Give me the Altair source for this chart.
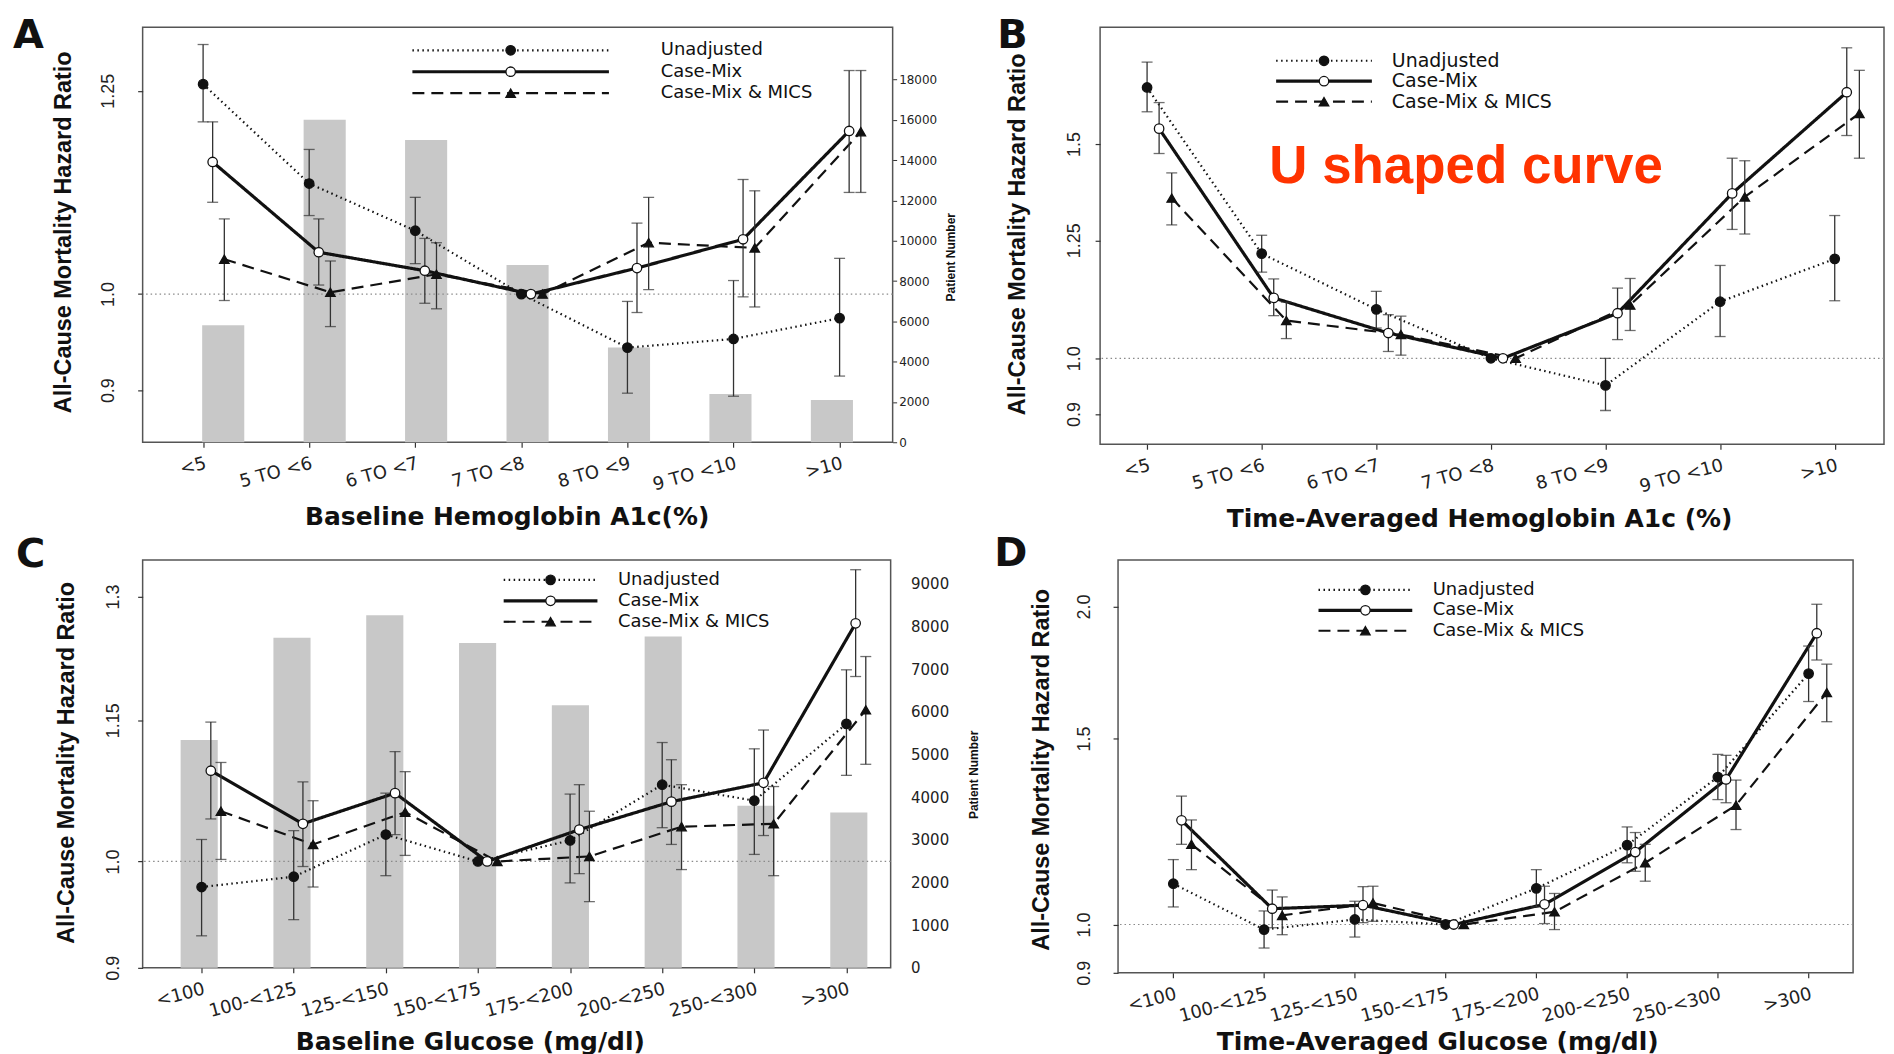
import json
import altair as alt
import pandas as pd

SERIES = ["Unadjusted", "Case-Mix", "Case-Mix & MICS"]

HBA1C_CATS = ["<5", "5 TO <6", "6 TO <7", "7 TO <8", "8 TO <9", "9 TO <10", ">10"]
GLU_CATS = ["<100", "100-<125", "125-<150", "150-<175", "175-<200", "200-<250", "250-<300", ">300"]

# ---------- Panel A: baseline HbA1c ----------
A_PATIENTS = [5800, 16000, 15000, 8800, 4700, 2400, 2100]
A_UNADJ = [1.259, 1.129, 1.072, 1.0, 0.943, 0.952, 0.974]
A_UNADJ_LO = [1.208, 1.090, 1.034, 1.0, 0.897, 0.894, 0.914]
A_UNADJ_HI = [1.315, 1.172, 1.112, 1.0, 0.992, 1.015, 1.040]
A_CM = [1.156, 1.047, 1.026, 1.0, 1.029, 1.062, 1.196]
A_CM_LO = [1.106, 1.010, 0.990, 1.0, 0.980, 0.997, 1.118]
A_CM_HI = [1.208, 1.086, 1.063, 1.0, 1.081, 1.134, 1.278]
A_MICS = [1.039, 1.002, 1.022, 1.0, 1.058, 1.052, 1.195]
A_MICS_LO = [0.993, 0.965, 0.984, 1.0, 1.005, 0.986, 1.118]
A_MICS_HI = [1.086, 1.037, 1.058, 1.0, 1.112, 1.120, 1.278]
A_YTICKS = [0.9, 1.0, 1.25]
A_PTICKS = [0, 2000, 4000, 6000, 8000, 10000, 12000, 14000, 16000, 18000]

# ---------- Panel B: time-averaged HbA1c ----------
B_UNADJ = [1.669, 1.219, 1.097, 1.0, 0.950, 1.113, 1.207]
B_UNADJ_LO = [1.594, 1.177, 1.059, 1.0, 0.906, 1.042, 1.115]
B_UNADJ_HI = [1.751, 1.262, 1.135, 1.0, 1.000, 1.192, 1.310]
B_CM = [1.544, 1.121, 1.049, 1.0, 1.089, 1.366, 1.654]
B_CM_LO = [1.473, 1.084, 1.013, 1.0, 1.036, 1.276, 1.524]
B_CM_HI = [1.622, 1.162, 1.086, 1.0, 1.142, 1.460, 1.799]
B_MICS = [1.354, 1.074, 1.046, 1.0, 1.106, 1.357, 1.589]
B_MICS_LO = [1.287, 1.038, 1.006, 1.0, 1.054, 1.265, 1.460]
B_MICS_HI = [1.420, 1.112, 1.083, 1.0, 1.163, 1.453, 1.724]
B_YTICKS = [0.9, 1.0, 1.25, 1.5]

# ---------- Panel C: baseline glucose ----------
C_PATIENTS = [5340, 7730, 8260, 7610, 6150, 7760, 3800, 3640]
C_UNADJ = [0.975, 0.985, 1.027, 1.0, 1.021, 1.079, 1.062, 1.146]
C_UNADJ_LO = [0.929, 0.944, 0.986, 1.0, 0.979, 1.034, 1.007, 1.089]
C_UNADJ_HI = [1.022, 1.031, 1.070, 1.0, 1.069, 1.125, 1.118, 1.209]
C_CM = [1.094, 1.038, 1.070, 1.0, 1.032, 1.061, 1.081, 1.266]
C_CM_LO = [1.043, 0.995, 1.027, 1.0, 0.988, 1.017, 1.026, 1.201]
C_CM_HI = [1.148, 1.082, 1.115, 1.0, 1.079, 1.106, 1.139, 1.335]
C_MICS = [1.051, 1.017, 1.050, 1.0, 1.005, 1.035, 1.038, 1.162]
C_MICS_LO = [1.002, 0.975, 1.006, 1.0, 0.961, 0.992, 0.986, 1.101]
C_MICS_HI = [1.103, 1.062, 1.093, 1.0, 1.051, 1.079, 1.077, 1.225]
C_YTICKS = [0.9, 1.0, 1.15, 1.3]
C_PTICKS = [0, 1000, 2000, 3000, 4000, 5000, 6000, 7000, 8000, 9000]

# ---------- Panel D: time-averaged glucose ----------
D_UNADJ = [1.093, 0.989, 1.011, 1.0, 1.082, 1.189, 1.379, 1.728]
D_UNADJ_LO = [1.039, 0.950, 0.973, 1.0, 1.039, 1.144, 1.313, 1.626]
D_UNADJ_HI = [1.152, 1.030, 1.052, 1.0, 1.127, 1.237, 1.449, 1.835]
D_CM = [1.255, 1.035, 1.043, 1.0, 1.045, 1.171, 1.372, 1.887]
D_CM_LO = [1.191, 0.993, 1.004, 1.0, 1.002, 1.123, 1.304, 1.780]
D_CM_HI = [1.323, 1.078, 1.086, 1.0, 1.087, 1.222, 1.446, 2.010]
D_MICS = [1.191, 1.020, 1.048, 1.0, 1.028, 1.144, 1.297, 1.658]
D_MICS_LO = [1.127, 0.978, 1.007, 1.0, 0.989, 1.099, 1.230, 1.556]
D_MICS_HI = [1.256, 1.062, 1.087, 1.0, 1.070, 1.191, 1.370, 1.764]
D_YTICKS = [0.9, 1.0, 1.5, 2.0]

FONT_W = "DejaVu Sans"
FONT_N = "Liberation Sans"
INK = "#111111"
DASHES = [[1.5, 3.5], [1, 0], [12, 7]]
WIDTHS = [2.2, 3.2, 2.2]
SHAPES = ["circle", "circle", "triangle-up"]
FILLS = ["#111111", "#ffffff", "#111111"]
# marker keys (a separate key set keeps the marker legend apart from the line legend)
MARKER_KEYS = ["pt-" + s for s in SERIES]


def make_panel(p):
    cats = p["cats"]
    rows = []
    for si, s in enumerate(SERIES):
        for i, c in enumerate(cats):
            rows.append({"idx": i, "cat": c, "series": s, "marker": MARKER_KEYS[si],
                         "hr": p["hr"][si][i], "lo": p["lo"][si][i], "hi": p["hi"][si][i],
                         "xpos": i + p["offsets"][si]})
    df = pd.DataFrame(rows)

    xsc = alt.Scale(domain=p["xdomain"], nice=False, zero=False)
    ysc = alt.Scale(type="log", domain=p["ydomain"], nice=False)
    xaxis = alt.Axis(
        values=list(range(len(cats))), labelExpr=json.dumps(cats) + "[datum.value]",
        title=p["xtitle"], labelAngle=345, labelAlign="right", labelBaseline="top",
        labelFont=FONT_W, labelFontSize=18, labelColor="#222", labelPadding=7,
        labelOverlap=False, labelFlush=False, tickSize=5, tickColor="#333", tickWidth=1.2,
        domain=False, grid=False, titleFont=FONT_W, titleFontSize=25, titleFontWeight="bold",
        titleColor=INK, titleX=p["xtitle_x"], titleY=p["xtitle_y"], titleBaseline="top",
        titleAlign="center")
    yaxis = alt.Axis(
        values=p["yticks"], format=".2~f",
        labelExpr="datum.value == 1 ? '1.0' : datum.value == 2 ? '2.0' : datum.label",
        labelAngle=270, labelAlign="center", labelBaseline="bottom", labelFont=FONT_N,
        labelFontSize=18, labelColor="#222", labelPadding=p["ylabpad"], labelOverlap=False,
        labelFlush=False, tickSize=5, tickColor="#333", tickWidth=1.2, domain=False, grid=False,
        title="All-Cause Mortality Hazard Ratio", titleFont=FONT_N, titleFontSize=23.5,
        titleFontWeight="bold", titleColor=INK, titleAngle=270, titleBaseline="bottom",
        titleAlign="center", titleX=p["ytitle_x"], titleY=p["ytitle_y"])

    def X(f):
        return alt.X(f, type="quantitative", scale=xsc, axis=xaxis)

    def Y(f):
        return alt.Y(f, type="quantitative", scale=ysc, axis=yaxis)

    half = p["leg_half"] / (90 ** 0.5 / 2)
    leg_line = alt.Legend(
        orient="none", legendX=p["leg_x"], legendY=p["leg_y"], title=None,
        symbolType=f"M-{half:.2f},0L{half:.2f},0", symbolSize=90, symbolStrokeColor=INK,
        symbolFillColor="transparent", labelOffset=p["leg_off"], labelFont=FONT_W,
        labelFontSize=p["leg_fs"], labelColor=INK, labelLimit=400, padding=0,
        rowPadding=p["leg_rp"])
    leg_pts = alt.Legend(
        orient="none", legendX=p["leg_x"], legendY=p["leg_y"], title=None, symbolSize=90,
        symbolStrokeColor=INK, symbolStrokeWidth=1.3, labelExpr="''", labelFont=FONT_W,
        labelFontSize=p["leg_fs"], labelOffset=p["leg_off"], padding=0, rowPadding=p["leg_rp"])

    base = alt.Chart(df)
    ref = alt.Chart(pd.DataFrame({"ref": [1.0]})).mark_rule(
        color="#8a8a8a", strokeDash=[1.5, 3], strokeWidth=1.2).encode(y=Y("ref"))
    lines = base.mark_line(color=INK).encode(
        x=X("xpos"), y=Y("hr"),
        strokeDash=alt.StrokeDash("series:N", scale=alt.Scale(domain=SERIES, range=DASHES),
                                  legend=leg_line),
        strokeWidth=alt.StrokeWidth("series:N",
                                    scale=alt.Scale(type="ordinal", domain=SERIES, range=WIDTHS),
                                    legend=leg_line))
    errs = base.transform_filter("datum.lo != datum.hi")
    err = errs.mark_rule(color="#333", strokeWidth=1.3).encode(
        x=X("xpos"), y=Y("lo"), y2=alt.Y2("hi"))
    cap_lo = errs.mark_tick(orient="horizontal", size=11, thickness=1.3, color="#333").encode(
        x=X("xpos"), y=Y("lo"))
    cap_hi = errs.mark_tick(orient="horizontal", size=11, thickness=1.3, color="#333").encode(
        x=X("xpos"), y=Y("hi"))
    pts = base.mark_point(size=90, opacity=1, strokeWidth=1.3).encode(
        x=X("xpos"), y=Y("hr"),
        shape=alt.Shape("marker:N", scale=alt.Scale(domain=MARKER_KEYS, range=SHAPES),
                        legend=leg_pts),
        fill=alt.Fill("marker:N", scale=alt.Scale(domain=MARKER_KEYS, range=FILLS),
                      legend=leg_pts),
        stroke=alt.Stroke("marker:N", scale=alt.Scale(domain=MARKER_KEYS, range=[INK, INK, INK]),
                          legend=leg_pts))
    lab = alt.Chart(pd.DataFrame({"t": [p["label"]]})).mark_text(
        font=FONT_W, fontSize=40, fontWeight="bold", align="left", baseline="top",
        color=INK).encode(text="t:N", x=alt.value(p["label_x"]), y=alt.value(p["label_y"]))
    layers = [ref, lines, err, cap_lo, cap_hi, pts, lab]
    if p.get("note"):
        note = alt.Chart(pd.DataFrame({"t": [p["note"]]})).mark_text(
            font=FONT_N, fontSize=53, fontWeight="bold", align="center", baseline="alphabetic",
            color="#ff3300").encode(text="t:N", x=alt.value(p["note_x"]), y=alt.value(p["note_y"]))
        layers.append(note)
    main = alt.layer(*layers)

    if p.get("patients"):
        bdf = pd.DataFrame({"cat": cats, "patients": p["patients"]})
        raxis = alt.Axis(
            orient="right", values=p["pticks"], format="d", title="Patient Number",
            labelFont=FONT_W, labelFontSize=p["r_fs"], labelColor="#222", tickSize=p["r_tick"],
            tickColor="#333", labelPadding=p["r_pad"], labelOverlap=False, labelFlush=False,
            domain=False, grid=False, titleFont=FONT_N, titleFontSize=12, titleFontWeight="bold",
            titleColor=INK, titleAngle=270, titleBaseline="top", titleAlign="center",
            titleX=p["r_title_x"], titleY=p["r_title_y"])
        bars = alt.Chart(bdf).mark_bar(color="#c8c8c8").encode(
            x=alt.X("cat:N", sort=cats,
                    scale=alt.Scale(type="band", paddingInner=p["b_pi"], paddingOuter=p["b_po"],
                                    align=p["b_al"]), axis=None),
            y=alt.Y("patients:Q", scale=alt.Scale(domain=[0, p["pmax"]], nice=False), axis=raxis))
        chart = alt.layer(bars, main).resolve_scale(x="independent", y="independent")
    else:
        chart = main
    return chart.properties(width=p["w"], height=p["h"])


PANEL_A = dict(
    cats=HBA1C_CATS, patients=A_PATIENTS,
    hr=[A_UNADJ, A_CM, A_MICS], lo=[A_UNADJ_LO, A_CM_LO, A_MICS_LO], hi=[A_UNADJ_HI, A_CM_HI, A_MICS_HI],
    w=752, h=416, xdomain=[-0.57, 6.50], ydomain=[0.85, 1.34], yticks=A_YTICKS,
    offsets=[0, 0.09, 0.2], label="A", label_x=-130, label_y=-11,
    ylabpad=20, ytitle_x=-67, ytitle_y=205, xtitle="Baseline Hemoglobin A1c(%)", xtitle_x=365, xtitle_y=62,
    leg_x=360, leg_y=14, leg_half=98.5, leg_off=141.5, leg_rp=3.5, leg_fs=18,
    b_pi=0.585, b_po=0.489, b_al=0.60, pmax=20590, pticks=A_PTICKS,
    r_fs=12, r_tick=4, r_pad=2, r_title_x=53, r_title_y=230)

PANEL_B = dict(
    cats=HBA1C_CATS,
    hr=[B_UNADJ, B_CM, B_MICS], lo=[B_UNADJ_LO, B_CM_LO, B_MICS_LO], hi=[B_UNADJ_HI, B_CM_HI, B_MICS_HI],
    w=786, h=418, xdomain=[-0.41, 6.43], ydomain=[0.85, 1.87], yticks=B_YTICKS,
    offsets=[0, 0.105, 0.215], label="B", label_x=-103, label_y=-11,
    ylabpad=12, ytitle_x=-71, ytitle_y=207, xtitle="Time-Averaged Hemoglobin A1c (%)", xtitle_x=380, xtitle_y=62,
    leg_x=215, leg_y=24, leg_half=48, leg_off=58.5, leg_rp=0.5, leg_fs=19,
    note="U shaped curve", note_x=367, note_y=156)

PANEL_C = dict(
    cats=GLU_CATS, patients=C_PATIENTS,
    hr=[C_UNADJ, C_CM, C_MICS], lo=[C_UNADJ_LO, C_CM_LO, C_MICS_LO], hi=[C_UNADJ_HI, C_CM_HI, C_MICS_HI],
    w=750, h=409, xdomain=[-0.64, 7.48], ydomain=[0.9, 1.348], yticks=C_YTICKS,
    offsets=[0, 0.1, 0.21], label="C", label_x=-127, label_y=-25,
    ylabpad=15, ytitle_x=-64, ytitle_y=203, xtitle="Baseline Glucose (mg/dl)", xtitle_x=328, xtitle_y=62,
    leg_x=400, leg_y=11, leg_half=47, leg_off=58.5, leg_rp=3, leg_fs=18,
    b_pi=0.6, b_po=0.33, b_al=0.62, pmax=9556, pticks=C_PTICKS,
    r_fs=15, r_tick=0, r_pad=20, r_title_x=78, r_title_y=215)

PANEL_D = dict(
    cats=GLU_CATS,
    hr=[D_UNADJ, D_CM, D_MICS], lo=[D_UNADJ_LO, D_CM_LO, D_MICS_LO], hi=[D_UNADJ_HI, D_CM_HI, D_MICS_HI],
    w=737, h=414, xdomain=[-0.609, 7.49], ydomain=[0.9, 2.214], yticks=D_YTICKS,
    offsets=[0, 0.09, 0.2], label="D", label_x=-124, label_y=-26,
    ylabpad=20, ytitle_x=-65, ytitle_y=210, xtitle="Time-Averaged Glucose (mg/dl)", xtitle_x=320, xtitle_y=57,
    leg_x=239, leg_y=21, leg_half=47, leg_off=58.5, leg_rp=2.5, leg_fs=18)

IND = dict(strokeDash="independent", strokeWidth="independent", shape="independent",
           fill="independent", stroke="independent", x="independent", y="independent")

row1 = alt.hconcat(make_panel(PANEL_A), make_panel(PANEL_B), spacing=39).resolve_scale(**IND)
row2 = alt.hconcat(make_panel(PANEL_C), make_panel(PANEL_D), spacing=13).resolve_scale(**IND)
chart = (
    alt.vconcat(row1, row2, spacing=1)
    .resolve_scale(**IND)
    .properties(padding={"left": 4, "top": 6, "right": 0, "bottom": 0}, background="white")
    .configure_view(stroke="#555555", strokeWidth=1.5)
)

chart.save("out.html", embed_options={"renderer": "svg", "actions": False})
